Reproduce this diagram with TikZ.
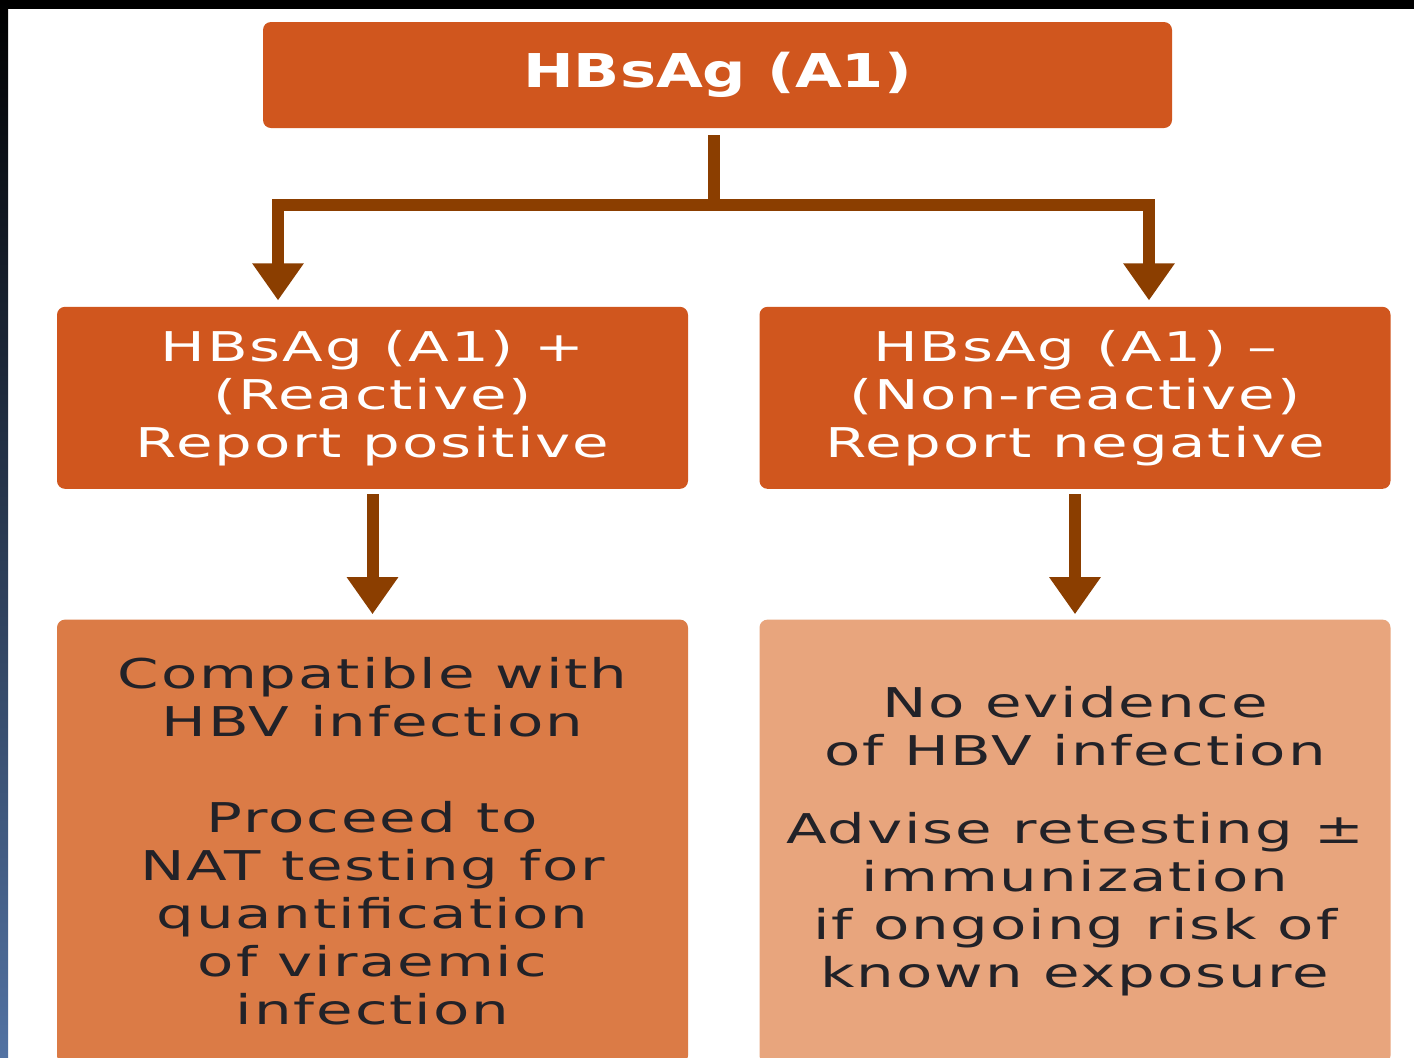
\documentclass[tikz,border=0pt]{standalone}
\usepackage{fontspec}
\usetikzlibrary{positioning,calc,arrows.meta}

\newfontfamily\boxfont[FakeStretch=1.45,LetterSpace=4.5]{DejaVu Sans}
\newfontfamily\headfont[FakeStretch=1.3]{DejaVu Sans Bold}

\definecolor{hbvorange}{HTML}{D0561E}
\definecolor{hbvlight}{HTML}{DB7B46}
\definecolor{hbvpale}{HTML}{E8A57D}
\definecolor{hbvarrow}{HTML}{8B3E00}
\definecolor{hbvtext}{HTML}{222228}
\definecolor{edgeblue}{HTML}{5272A2}
\definecolor{edgenavy}{HTML}{10161F}

\tikzstyle{result} = [rectangle, rounded corners=4pt, fill=hbvorange, text=white, minimum width=315.5pt,
	minimum height=91pt, inner sep=0pt, align=center, font=\boxfont\fontsize{20.5}{24}\selectfont]
\tikzstyle{advice} = [result, minimum height=222pt, text=hbvtext]
\tikzstyle{flow} = [draw=hbvarrow, line width=6pt, -{Triangle[width=24.5pt,length=18.5pt]}]

\begin{document}
\begin{tikzpicture}
\useasboundingbox (0,0) rectangle (707pt,-528.5pt);
\clip (0,0) rectangle (707pt,-528.5pt);
\fill[white] (0,0) rectangle (707pt,-528.5pt);
% frame of the slide
\fill[black] (0,0) rectangle (707pt,-4.5pt);
\shade[top color=black, middle color=edgenavy, bottom color=edgeblue] (0,0) rectangle (4pt,-528.5pt);

\node [rectangle, rounded corners=4pt, fill=hbvorange, text=white, minimum width=454.5pt, minimum height=53pt,
	font=\headfont\fontsize{23.3}{26}\selectfont] (hbsag) at (358.75pt,-37.5pt) {\raisebox{-1.5pt}{HBsAg (A1)}};

\node [result, below=89pt of hbsag.south, xshift=-172.5pt] (pos)
	{HBsAg (A1) +\\(Reactive)\\Report positive};
\node [result, below=89pt of hbsag.south, xshift=178.75pt] (neg)
	{HBsAg (A1) –\\(Non-reactive)\\Report negative};

\node [advice, fill=hbvlight, below=65pt of pos] (compat)
	{Compatible with\\HBV infection\\[24pt]Proceed to\\NAT testing for\\quantification\\of viraemic\\infection};
\node [advice, fill=hbvpale, below=65pt of neg] (noevid)
	{No evidence\\of HBV infection\\[15pt]Advise retesting ±\\immunization\\if ongoing risk of\\known exposure};

% split under the test
\coordinate (split) at ($(hbsag.south)+(-1.75pt,-38.5pt)$);
\coordinate (posdrop) at ($(split)+(-218pt,0)$);
\coordinate (negdrop) at ($(split)+(217.5pt,0)$);
\draw[flow, shorten <=3.5pt, shorten >=3pt] (hbsag.south -| split) -- (split) -| (posdrop |- pos.north);
\draw[flow, shorten <=3.5pt, shorten >=3pt] (hbsag.south -| split) -- (split) -| (negdrop |- neg.north);

\draw[flow, shorten <=2.5pt, shorten >=2.5pt] (pos) -- (compat);
\draw[flow, shorten <=2.5pt, shorten >=2.5pt] (neg) -- (noevid);
\end{tikzpicture}
\end{document}
